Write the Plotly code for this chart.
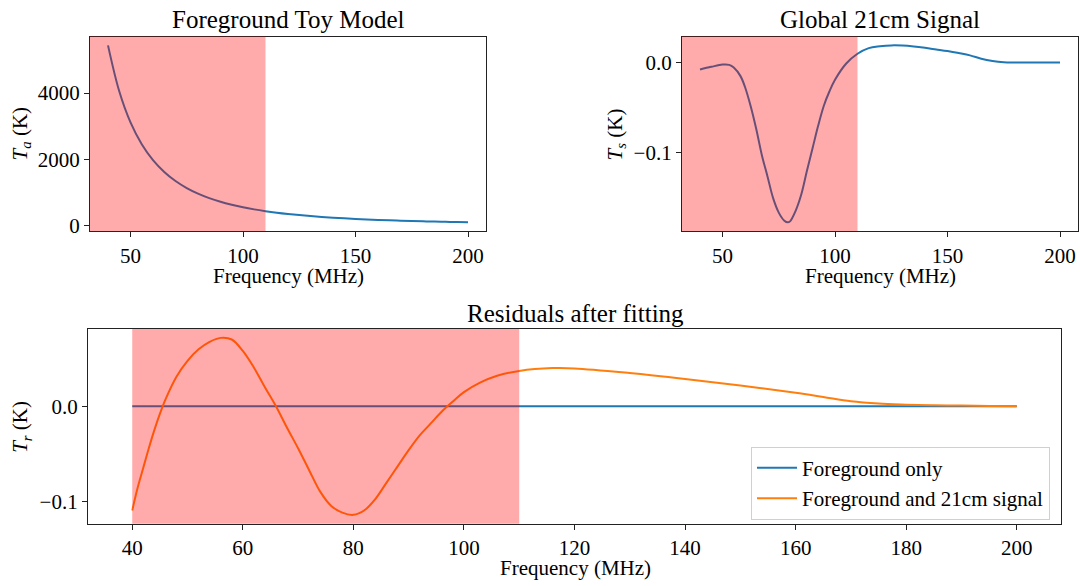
import plotly.graph_objects as go

# ---------------- data ----------------
freq_fg = [40, 45, 50, 55, 60, 65, 70, 75, 80, 85, 90, 95, 100, 105, 110, 115, 120,
           125, 130, 135, 140, 145, 150, 155, 160, 165, 170, 175, 180, 185, 190, 195, 200]
temp_fg = [5440, 4053, 3113, 2454, 1974, 1616, 1343, 1130, 962, 826, 716, 626, 550, 487,
           434, 388, 349, 315, 286, 260, 237, 217, 200, 184, 170, 157, 146, 136, 127,
           118, 111, 104, 95]

freq_sig = [40, 45, 50, 53, 55, 58, 60, 62.5, 65, 67.5, 70, 72.5, 75, 77.5, 79, 80, 82.5,
            85, 87.5, 90, 92.5, 95, 97.5, 100, 105, 110, 115, 120, 125, 130, 135, 140,
            145, 150, 155, 160, 165, 170, 175, 180, 185, 190, 195, 200]
temp_sig = [-0.0076, -0.0047, -0.0022, -0.0025, -0.0055, -0.0150, -0.0270, -0.0480,
            -0.0735, -0.1025, -0.1260, -0.1500, -0.1660, -0.1750, -0.1768, -0.1757,
            -0.1640, -0.1460, -0.1200, -0.0950, -0.0700, -0.0480, -0.0320, -0.0190,
            -0.0010, 0.0098, 0.0160, 0.0180, 0.0190, 0.0188, 0.0178, 0.0163, 0.0145,
            0.0127, 0.0105, 0.0080, 0.0043, 0.0018, 0.0004, 0.0001, 0.0, 0.0, 0.0, 0.0]

freq_res = [40, 41, 42, 43, 44, 45, 46, 48, 50, 52, 54, 56, 58, 60, 62, 64, 66, 68, 70,
            72, 74, 76, 78, 80, 82, 84, 86, 88, 90, 92, 94, 96, 98, 100, 103, 106, 110,
            116, 120, 130, 140, 150, 160, 165, 170, 175, 180, 185, 190, 195, 200]
res_fg_only = [0.0] * len(freq_res)
res_fg_sig = [-0.1093, -0.0850, -0.0645, -0.0440, -0.0250, -0.0080, 0.0070, 0.0310,
              0.0476, 0.0597, 0.0676, 0.0717, 0.0700, 0.0580, 0.0407, 0.0200, 0.0000,
              -0.0225, -0.0440, -0.0670, -0.0895, -0.1045, -0.1115, -0.1138, -0.1090,
              -0.0970, -0.0800, -0.0630, -0.0460, -0.0305, -0.0180, -0.0055, 0.0050,
              0.0148, 0.0250, 0.0320, 0.0370, 0.0400, 0.0397, 0.0348, 0.0286, 0.0217,
              0.0141, 0.0097, 0.0052, 0.0028, 0.0017, 0.0010, 0.0007, 0.0003, 0.0]

shade_top = (32, 110)
shade_bottom = (40, 110)

ticks_top_x = [50, 100, 150, 200]
ticks_bot_x = [40, 60, 80, 100, 120, 140, 160, 180, 200]
ticks_fg_y = [0, 2000, 4000]
ticks_sig_y = [-0.1, 0.0]
ticktext_sig_y = ["\u22120.1", "0.0"]
ticks_res_y = [-0.1, 0.0]
ticktext_res_y = ["\u22120.1", "0.0"]

BLUE = "#1f77b4"
ORANGE = "#ff7f0e"
SHADE = "rgba(255,0,0,0.33)"
FONT = "Liberation Serif"


def padded(vals, frac=0.05):
    lo, hi = min(vals), max(vals)
    d = (hi - lo) * frac
    return [lo - d, hi + d]


xr = padded(freq_fg)

fig = go.Figure()
fig.add_trace(go.Scatter(x=freq_fg, y=temp_fg, mode="lines", line=dict(color=BLUE, width=2, shape="spline"),
                         xaxis="x", yaxis="y", showlegend=False))
fig.add_trace(go.Scatter(x=freq_sig, y=temp_sig, mode="lines", line=dict(color=BLUE, width=2, shape="spline"),
                         xaxis="x2", yaxis="y2", showlegend=False))
fig.add_trace(go.Scatter(x=freq_res, y=res_fg_only, mode="lines", line=dict(color=BLUE, width=2),
                         xaxis="x3", yaxis="y3", name="Foreground only"))
fig.add_trace(go.Scatter(x=freq_res, y=res_fg_sig, mode="lines", line=dict(color=ORANGE, width=2, shape="spline"),
                         xaxis="x3", yaxis="y3", name="Foreground and 21cm signal"))

W, H = 1080, 586
def dx(a, b):
    return [a / W, b / W]
def dy(top, bot):
    return [1 - bot / H, 1 - top / H]

axis_common = dict(showline=True, linecolor="#222", linewidth=1.2, mirror=True,
                   ticks="outside", ticklen=5, tickwidth=1.2, tickcolor="#222",
                   showgrid=False, zeroline=False,
                   tickfont=dict(family=FONT, size=21, color="black"))

fig.update_layout(
    width=W, height=H, margin=dict(l=0, r=0, t=0, b=0),
    paper_bgcolor="white", plot_bgcolor="white",
    font=dict(family=FONT, size=21, color="black"),
    xaxis=dict(domain=dx(90, 486), anchor="y", range=xr, tickvals=ticks_top_x, **axis_common),
    yaxis=dict(domain=dy(37, 234), anchor="x", range=padded(temp_fg), tickvals=ticks_fg_y, **axis_common),
    xaxis2=dict(domain=dx(682, 1078), anchor="y2", range=xr, tickvals=ticks_top_x, **axis_common),
    yaxis2=dict(domain=dy(37, 234), anchor="x2", range=padded(temp_sig), tickvals=ticks_sig_y,
                ticktext=ticktext_sig_y, **axis_common),
    xaxis3=dict(domain=dx(88, 1061), anchor="y3", range=padded(freq_res), tickvals=ticks_bot_x, **axis_common),
    yaxis3=dict(domain=dy(333, 530), anchor="x3", range=padded(res_fg_sig), tickvals=ticks_res_y,
                ticktext=ticktext_res_y, **axis_common),
    legend=dict(x=1050 / W, y=1 - 526 / H, xanchor="right", yanchor="bottom",
                bgcolor="rgba(255,255,255,0.8)", bordercolor="#d0d0d0", borderwidth=1,
                font=dict(family=FONT, size=21), tracegroupgap=0, itemwidth=40,
                entrywidth=250),
)

# shaded bands (drawn above lines, like the original)
for xref, yref, (a, b) in [("x", "y domain", shade_top), ("x2", "y2 domain", shade_top),
                            ("x3", "y3 domain", shade_bottom)]:
    fig.add_shape(type="rect", xref=xref, yref=yref, x0=a, x1=b, y0=0, y1=1,
                  fillcolor=SHADE, line=dict(width=0), layer="above")

ann = []
def text(x, y, s, size=21, angle=0):
    ann.append(dict(x=x / W, y=1 - y / H, xref="paper", yref="paper", text=s, showarrow=False,
                    textangle=angle, font=dict(family=FONT, size=size, color="black"),
                    xanchor="center", yanchor="middle"))

text(288, 20, "Foreground Toy Model", 25)
text(880, 20, "Global 21cm Signal", 25)
text(575, 317, "Residuals after fitting", 25)
text(288, 279, "Frequency (MHz)")
text(880, 279, "Frequency (MHz)")
text(575, 575, "Frequency (MHz)")
text(21, 136, "<i>T</i><sub><i>a</i></sub> (K)", angle=-90)
text(616, 136, "<i>T</i><sub><i>s</i></sub> (K)", angle=-90)
text(21, 432, "<i>T</i><sub><i>r</i></sub> (K)", angle=-90)
fig.update_layout(annotations=ann)

fig.write_html("out.html")
